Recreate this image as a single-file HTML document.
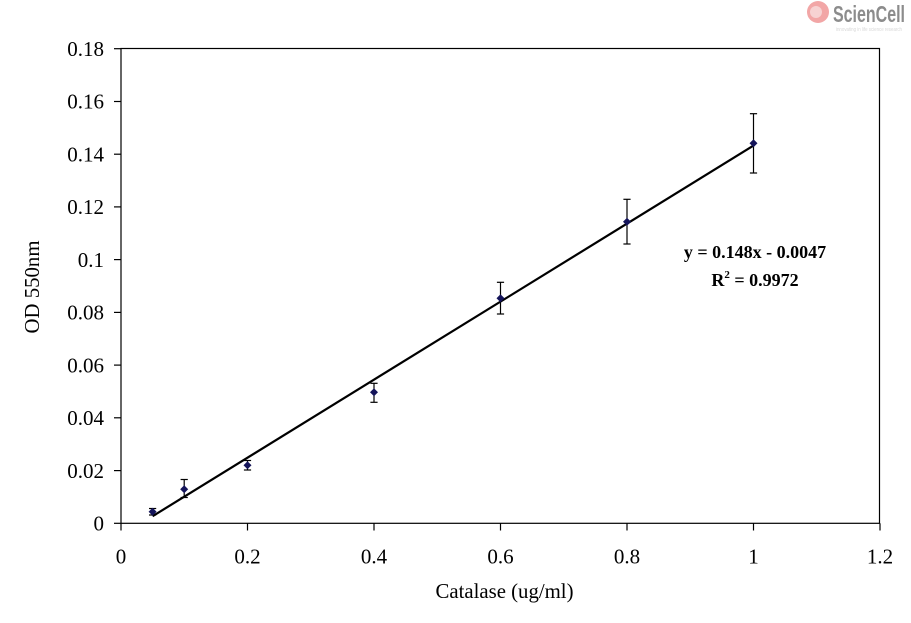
<!DOCTYPE html>
<html>
<head>
<meta charset="utf-8">
<style>
  html, body { margin: 0; padding: 0; background: #ffffff; }
  svg { display: block; }
  text { font-family: "Liberation Serif", "Times New Roman", serif; fill: #000; }
</style>
</head>
<body>
<svg width="911" height="623" viewBox="0 0 911 623" xmlns="http://www.w3.org/2000/svg">
  <rect x="0" y="0" width="911" height="623" fill="#ffffff"/>

  <!-- Logo -->
  <circle cx="818" cy="12" r="11" fill="#f2a6a6"/>
  <circle cx="816" cy="12" r="6" fill="#f7d2d2"/>
  <text x="833" y="22" font-weight="bold" font-size="23" textLength="72" lengthAdjust="spacingAndGlyphs" style="fill:#8c8c8c;font-family:'Liberation Sans',sans-serif">ScienCell</text>
  <text x="836" y="31" font-size="5" textLength="66" lengthAdjust="spacingAndGlyphs" style="fill:#d8d8d8;font-family:'Liberation Sans',sans-serif">innovating in life science research</text>

  <!-- Plot area -->
  <rect x="121" y="48.5" width="758.5" height="474.8" fill="none" stroke="#000" stroke-width="1.2"/>

  <!-- Y ticks -->
  <g stroke="#000" stroke-width="1.2">
    <line x1="114" y1="523.3" x2="121" y2="523.3"/>
    <line x1="114" y1="470.6" x2="121" y2="470.6"/>
    <line x1="114" y1="417.8" x2="121" y2="417.8"/>
    <line x1="114" y1="365.1" x2="121" y2="365.1"/>
    <line x1="114" y1="312.4" x2="121" y2="312.4"/>
    <line x1="114" y1="259.6" x2="121" y2="259.6"/>
    <line x1="114" y1="206.9" x2="121" y2="206.9"/>
    <line x1="114" y1="154.2" x2="121" y2="154.2"/>
    <line x1="114" y1="101.5" x2="121" y2="101.5"/>
    <line x1="114" y1="48.7" x2="121" y2="48.7"/>
  </g>
  <!-- X ticks -->
  <g stroke="#000" stroke-width="1.2">
    <line x1="121" y1="523.3" x2="121" y2="530.5"/>
    <line x1="247.5" y1="523.3" x2="247.5" y2="530.5"/>
    <line x1="374" y1="523.3" x2="374" y2="530.5"/>
    <line x1="500.5" y1="523.3" x2="500.5" y2="530.5"/>
    <line x1="627" y1="523.3" x2="627" y2="530.5"/>
    <line x1="753.5" y1="523.3" x2="753.5" y2="530.5"/>
    <line x1="880" y1="523.3" x2="880" y2="530.5"/>
  </g>

  <!-- Y tick labels -->
  <g font-size="21" text-anchor="end">
    <text x="104" y="530.5">0</text>
    <text x="104" y="477.8">0.02</text>
    <text x="104" y="425">0.04</text>
    <text x="104" y="372.3">0.06</text>
    <text x="104" y="319.6">0.08</text>
    <text x="104" y="266.8">0.1</text>
    <text x="104" y="214.1">0.12</text>
    <text x="104" y="161.4">0.14</text>
    <text x="104" y="108.7">0.16</text>
    <text x="104" y="55.9">0.18</text>
  </g>

  <!-- X tick labels -->
  <g font-size="21" text-anchor="middle">
    <text x="121" y="563.5">0</text>
    <text x="247.5" y="563.5">0.2</text>
    <text x="374" y="563.5">0.4</text>
    <text x="500.5" y="563.5">0.6</text>
    <text x="627" y="563.5">0.8</text>
    <text x="753.5" y="563.5">1</text>
    <text x="880" y="563.5">1.2</text>
  </g>

  <!-- Axis titles -->
  <text x="504.5" y="598" font-size="20.8" text-anchor="middle">Catalase (ug/ml)</text>
  <text x="0" y="0" font-size="20.8" text-anchor="middle" transform="translate(39,287) rotate(-90)">OD 550nm</text>

  <!-- Trendline -->
  <line x1="152.6" y1="516.2" x2="753.5" y2="145.6" stroke="#000" stroke-width="2.2"/>

  <!-- Error bars -->
  <g stroke="#000" stroke-width="1.2" fill="none">
    <line x1="152.6" y1="508.5" x2="152.6" y2="515"/>
    <line x1="149" y1="508.5" x2="156.2" y2="508.5"/>
    <line x1="149" y1="515" x2="156.2" y2="515"/>

    <line x1="184.2" y1="479.5" x2="184.2" y2="497.5"/>
    <line x1="180.6" y1="479.5" x2="187.8" y2="479.5"/>
    <line x1="180.6" y1="497.5" x2="187.8" y2="497.5"/>

    <line x1="247.5" y1="460.5" x2="247.5" y2="470"/>
    <line x1="243.9" y1="460.5" x2="251.1" y2="460.5"/>
    <line x1="243.9" y1="470" x2="251.1" y2="470"/>

    <line x1="374" y1="383.3" x2="374" y2="402.3"/>
    <line x1="370.4" y1="383.3" x2="377.6" y2="383.3"/>
    <line x1="370.4" y1="402.3" x2="377.6" y2="402.3"/>

    <line x1="500.5" y1="282.3" x2="500.5" y2="314"/>
    <line x1="496.9" y1="282.3" x2="504.1" y2="282.3"/>
    <line x1="496.9" y1="314" x2="504.1" y2="314"/>

    <line x1="627" y1="199.3" x2="627" y2="244"/>
    <line x1="623.4" y1="199.3" x2="630.6" y2="199.3"/>
    <line x1="623.4" y1="244" x2="630.6" y2="244"/>

    <line x1="753.5" y1="113.7" x2="753.5" y2="173"/>
    <line x1="749.9" y1="113.7" x2="757.1" y2="113.7"/>
    <line x1="749.9" y1="173" x2="757.1" y2="173"/>
  </g>

  <!-- Markers (diamonds) -->
  <g fill="#14145a">
    <polygon points="152.6,507.7 156.6,511.7 152.6,515.7 148.6,511.7"/>
    <polygon points="184.2,485.3 188.2,489.3 184.2,493.3 180.2,489.3"/>
    <polygon points="247.5,461.3 251.5,465.3 247.5,469.3 243.5,465.3"/>
    <polygon points="374,388.3 378,392.3 374,396.3 370,392.3"/>
    <polygon points="500.5,294.3 504.5,298.3 500.5,302.3 496.5,298.3"/>
    <polygon points="627,217.7 631,221.7 627,225.7 623,221.7"/>
    <polygon points="753.5,139.3 757.5,143.3 753.5,147.3 749.5,143.3"/>
  </g>

  <!-- Equation -->
  <text x="755" y="258" font-size="18" font-weight="bold" text-anchor="middle">y = 0.148x - 0.0047</text>
  <text x="755" y="286" font-size="18" font-weight="bold" text-anchor="middle">R<tspan font-size="11" dy="-8">2</tspan><tspan dy="8"> = 0.9972</tspan></text>
</svg>
</body>
</html>
